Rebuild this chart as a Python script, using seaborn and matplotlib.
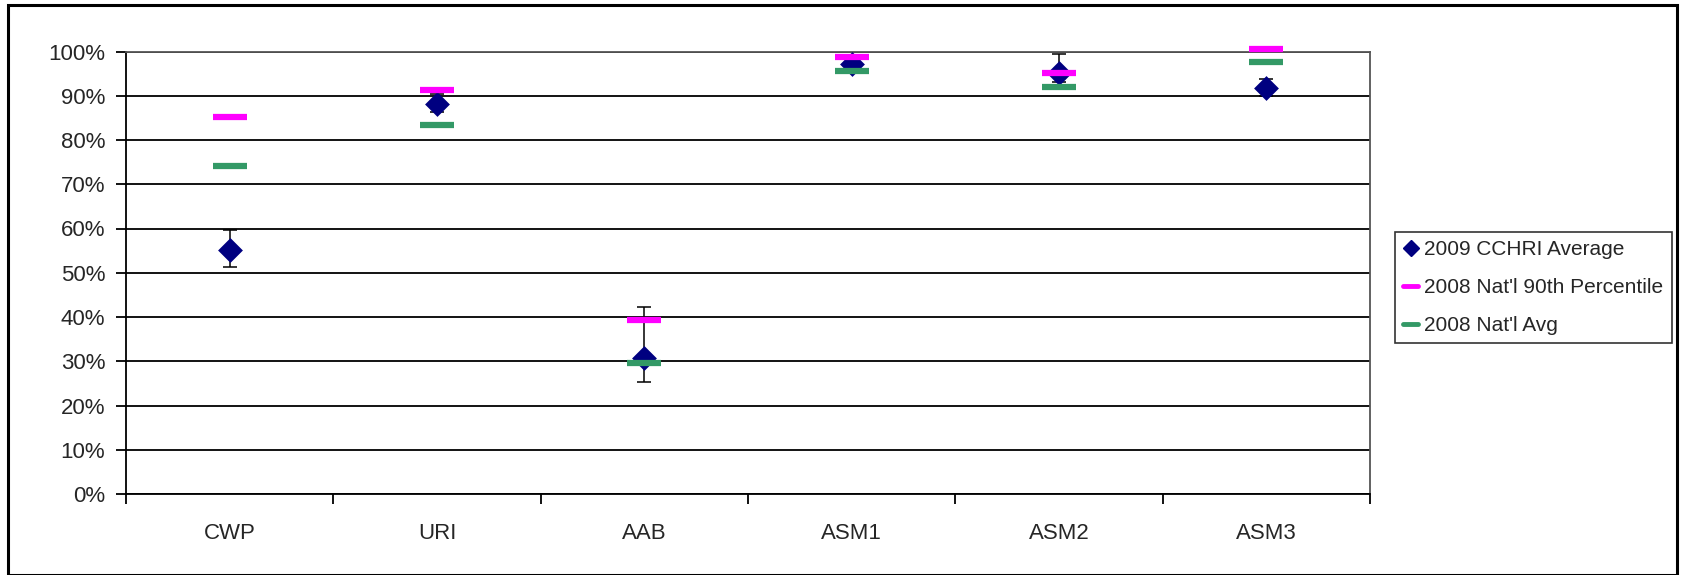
import matplotlib
matplotlib.use("Agg")
import matplotlib.pyplot as plt
import seaborn as sns
import pandas as pd
from matplotlib.lines import Line2D
from matplotlib.patches import Rectangle
from matplotlib.ticker import FixedLocator, PercentFormatter

# values (percent)
measures = ["CWP", "URI", "AAB", "ASM1", "ASM2", "ASM3"]
cchri_avg = [55.2, 88.2, 30.7, 97.1, 95.2, 91.8]
ci_low = [51.3, 86.4, 25.3, 96.5, 93.0, 90.0]
ci_high = [59.6, 90.4, 42.2, 97.7, 99.4, 93.7]
natl_90th = [85.3, 91.4, 39.4, 98.7, 95.1, 100.6]
natl_avg = [74.1, 83.5, 29.6, 95.5, 91.9, 97.7]

navy = "#000080"
pink = "#FF00FF"
green = "#339966"

sns.set_style("white")
plt.rcParams["font.family"] = ["Liberation Sans", "DejaVu Sans"]

df = pd.DataFrame({"measure": measures, "avg": cchri_avg, "lo": ci_low, "hi": ci_high,
                   "p90": natl_90th, "natl": natl_avg})

W, H = 1683, 575
fig = plt.figure(figsize=(W / 100, H / 100), dpi=100)
ax = fig.add_axes([126 / W, 1 - 494 / H, (1370 - 126) / W, (494 - 51.5) / H])

# error bars sit behind the diamonds
ax.errorbar(df["measure"], df["avg"],
            yerr=[df["avg"] - df["lo"], df["hi"] - df["avg"]],
            fmt="none", ecolor="black", elinewidth=1.1, capsize=5, capthick=1.1, zorder=3)
sns.scatterplot(data=df, x="measure", y="avg", marker="D", s=160, color=navy,
                edgecolor=navy, linewidth=0, ax=ax, zorder=4, legend=False)
sns.scatterplot(data=df, x="measure", y="p90", marker="_", s=24 ** 2, color=pink,
                linewidth=4.5, ax=ax, zorder=5, legend=False, clip_on=False)
sns.scatterplot(data=df, x="measure", y="natl", marker="_", s=24 ** 2, color=green,
                linewidth=4.5, ax=ax, zorder=6, legend=False, clip_on=False)

ax.set_xlim(-0.5, len(measures) - 0.5)
ax.set_ylim(0, 100)
ax.set_yticks(range(0, 101, 10))
ax.yaxis.set_major_formatter(PercentFormatter(decimals=0))
ax.yaxis.grid(True, color="black", linewidth=1.3)
ax.set_axisbelow(True)
ax.set_xlabel("")
ax.set_ylabel("")

ax.xaxis.set_minor_locator(FixedLocator([i - 0.5 for i in range(len(measures) + 1)]))
ax.tick_params(axis="x", which="major", length=0, pad=21, labelsize=16)
ax.tick_params(axis="x", which="minor", length=7, width=1.3, direction="out", color="black", bottom=True)
ax.tick_params(axis="y", length=7, width=1.3, direction="out", color="black", left=True, pad=8, labelsize=16)

for side in ["left", "bottom"]:
    ax.spines[side].set_color("black")
    ax.spines[side].set_linewidth(1.3)
for side in ["top", "right"]:
    ax.spines[side].set_color("#555555")
    ax.spines[side].set_linewidth(1.3)

handles = [
    Line2D([], [], marker="D", linestyle="none", color=navy, markersize=8.5),
    Line2D([], [], color=pink, linewidth=3.5),
    Line2D([], [], color=green, linewidth=3.5),
]
labels = ["2009 CCHRI Average", "2008 Nat'l 90th Percentile", "2008 Nat'l Avg"]
leg = fig.legend(handles, labels, loc="upper left", bbox_to_anchor=(1395 / W, 1 - 232 / H),
                 frameon=True, fancybox=False, edgecolor="black", fontsize=15,
                 handlelength=0.7, handletextpad=0.3, labelspacing=0.9, borderpad=0.4,
                 borderaxespad=0)
leg.get_frame().set_linewidth(1.2)

fig.add_artist(Rectangle((8 / W, 0), (1677 - 8) / W, 1 - 5 / H,
                         transform=fig.transFigure, fill=False, edgecolor="black", linewidth=2.2))

fig.savefig("out.png", dpi=100)
